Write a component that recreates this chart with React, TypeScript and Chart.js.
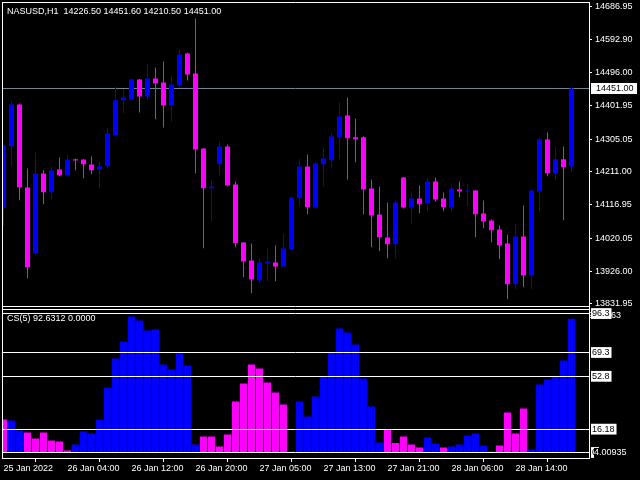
import React, { useEffect, useRef } from 'react';
import { Chart, registerables } from 'chart.js';

Chart.register(...registerables);

// ---------- data ----------
const symbolTitle = 'NASUSD,H1';
const opens = [
  14108.0, 14285.2, 14405.1, 14166.4, 13976.6, 14206.7, 14152.9, 14218.2, 14201.8, 14247.8,
  14246.9, 14232.5, 14218.2, 14227.7, 14316.8, 14417.5, 14419.5, 14477.0, 14428.1, 14479.9,
  14468.4, 14402.2, 14459.7, 14551.8, 14494.3, 14278.6, 14164.4, 14233.4, 14284.3, 14175.0,
  14008.2, 13956.4, 13898.9, 13947.8, 13950.7, 13939.2, 13988.1, 14135.6, 14226.8, 14108.9,
  14233.4, 14244.9, 14311.1, 14373.5, 14311.1, 14311.1, 14163.5, 14088.7, 14022.6, 14003.3,
  14195.2, 14108.9, 14134.8, 14121.2, 14183.6, 14134.8, 14108.9, 14160.6, 14154.9, 14157.8,
  14091.6, 14071.5, 14045.6, 14005.3, 13888.3, 14025.5, 13913.3, 14154.9, 14304.4, 14207.5,
  14247.5, 14226.5,
];
const highs = [
  14290.0, 14413.7, 14408.0, 14221.0, 14267.1, 14215.3, 14226.8, 14252.7, 14261.3, 14249.8,
  14247.5, 14255.5, 14241.2, 14339.0, 14456.0, 14449.1, 14479.9, 14478.5, 14521.0, 14511.5,
  14528.8, 14488.5, 14563.3, 14554.7, 14652.4, 14279.5, 14186.5, 14298.7, 14290.1, 14183.6,
  14009.0, 14005.3, 13962.2, 13991.0, 13999.6, 14034.1, 14140.5, 14247.5, 14261.3, 14238.3,
  14281.4, 14321.7, 14410.9, 14425.2, 14364.8, 14313.9, 14189.4, 14169.3, 14123.3, 14129.0,
  14196.6, 14152.0, 14172.1, 14192.3, 14195.2, 14152.0, 14172.1, 14183.6, 14177.9, 14158.5,
  14129.0, 14074.4, 14057.1, 14031.2, 14062.9, 14114.6, 14160.6, 14310.2, 14324.6, 14284.3,
  14284.3, 14451.6,
];
const lows = [
  14056.2, 14227.7, 14129.9, 13905.5, 13975.7, 14118.4, 14132.7, 14198.9, 14200.5, 14216.1,
  14193.1, 14204.6, 14164.4, 14221.9, 14313.9, 14380.1, 14418.5, 14382.1, 14419.5, 14362.8,
  14339.0, 14356.2, 14454.0, 14474.1, 14206.7, 13991.8, 14068.6, 14198.9, 14169.3, 13994.7,
  13908.4, 13862.4, 13891.2, 13896.9, 13896.9, 13938.5, 13985.2, 14112.6, 14089.6, 14106.9,
  14170.1, 14224.8, 14247.5, 14189.4, 14239.2, 14089.6, 13994.7, 13983.2, 13963.1, 13963.1,
  14106.0, 14062.9, 14092.5, 14098.2, 14126.1, 14098.2, 14098.2, 14138.5, 14112.6, 14023.5,
  14049.3, 14009.1, 13960.2, 13845.1, 13873.9, 13879.7, 13873.9, 14098.2, 14198.9, 14187.4,
  14072.3, 14210.5,
];
const closes = [
  14288.0, 14405.1, 14167.3, 13937.2, 14206.7, 14152.9, 14215.3, 14201.8, 14246.1, 14244.0,
  14233.4, 14216.1, 14227.7, 14321.7, 14417.5, 14425.2, 14477.0, 14428.1, 14479.9, 14465.5,
  14402.2, 14462.6, 14548.9, 14491.4, 14275.7, 14164.4, 14169.3, 14284.3, 14172.1, 14006.2,
  13953.6, 13901.8, 13950.7, 13953.6, 13939.2, 13991.0, 14137.6, 14226.8, 14109.7, 14235.4,
  14249.8, 14313.1, 14370.6, 14308.2, 14305.3, 14160.6, 14085.9, 14023.5, 14003.3, 14123.3,
  14108.9, 14134.8, 14118.4, 14183.6, 14131.9, 14109.7, 14163.5, 14154.9, 14157.8, 14089.6,
  14069.5, 14043.6, 14000.4, 13888.3, 14025.5, 13913.3, 14157.8, 14304.4, 14207.5, 14247.5,
  14224.8, 14451.0,
];
const csValues = [
  22.9, 22.2, 15.2, 13.9, 9.7, 13.9, 8.3, 7.6, 1.4, 5.5,
  14.6, 13.2, 22.9, 45.0, 65.1, 76.9, 94.2, 91.5, 84.5, 85.2,
  61.0, 57.5, 68.6, 60.3, 5.5, 11.1, 11.1, 4.2, 12.5, 35.3,
  47.8, 61.0, 58.2, 48.5, 41.6, 33.3, 0.7, 35.3, 24.9, 38.8,
  52.4, 69.1, 85.9, 83.2, 74.8, 51.3, 31.9, 6.9, 16.2, 6.5,
  11.1, 5.5, 3.5, 10.4, 6.2, 3.5, 4.2, 5.5, 11.8, 13.2,
  4.9, 0.9, 4.9, 27.7, 13.2, 30.5, 2.1, 47.1, 50.6, 52.7,
  63.8, 92.6312,
];
// 1 = rising strength (blue), -1 = falling (magenta)
const csDir = [
  -1, 1, 1, -1, -1, -1, -1, -1, -1, 1,
  1, 1, 1, 1, 1, 1, 1, 1, 1, 1,
  1, 1, 1, 1, 1, -1, -1, -1, -1, -1,
  -1, -1, -1, -1, -1, -1, 1, 1, 1, 1,
  1, 1, 1, 1, 1, 1, 1, 1, -1, -1,
  -1, -1, -1, 1, 1, -1, 1, 1, 1, 1,
  1, 1, -1, -1, -1, -1, 1, 1, 1, 1,
  1, 1,
];
const csSecondValue = 0.0;
const timeLabels = [
  '25 Jan 2022', '26 Jan 04:00', '26 Jan 12:00', '26 Jan 20:00', '27 Jan 05:00',
  '27 Jan 13:00', '27 Jan 21:00', '28 Jan 06:00', '28 Jan 14:00',
];
const timeLabelBars = [0, 8, 16, 24, 32, 40, 48, 56, 64];
const priceTicks = [
  14686.95, 14592.9, 14496.0, 14401.95, 14305.05, 14211.0, 14116.95, 14020.05, 13926.0, 13831.95,
];
const levelTicks = [96.3, 69.3, 52.8, 16.18, 0];
const csScaleMaxText = '98.3463';
const csScaleMinText = '4.00935';

// ---------- styles ----------
const UP = '#0000ff';
const DOWN = '#ff00ff';
const FONT_FAMILY = '"Liberation Sans", Arial, sans-serif';
const font = { family: FONT_FAMILY, size: 9 };
const X_MIN = -0.1875;
const X_MAX = 73.1875;

const zeroPad = (s: any) => {
  s.paddingTop = 0;
  s.paddingBottom = 0;
  s.paddingLeft = 0;
  s.paddingRight = 0;
};

const decorPlugin = {
  id: 'mt4decor',
  beforeDraw(chart: any) {
    const { ctx, width, height } = chart;
    ctx.save();
    ctx.fillStyle = '#000';
    ctx.fillRect(0, 0, width, height);
    const y2 = chart.scales.y2;
    ctx.font = `9px ${FONT_FAMILY}`;
    ctx.textBaseline = 'middle';
    ctx.fillStyle = '#fff';
    // sub-window scale maximum (mostly hidden behind level box)
    ctx.save();
    ctx.beginPath();
    ctx.rect(590, y2.top, 50, 20);
    ctx.clip();
    ctx.textAlign = 'right';
    ctx.fillText(csScaleMaxText, 621, y2.top + 8.2);
    ctx.restore();
    ctx.restore();
  },
  afterDraw(chart: any) {
    const { ctx, chartArea } = chart;
    const y = chart.scales.y;
    const y2 = chart.scales.y2;
    const L = chartArea.left;
    const R = chartArea.right;
    ctx.save();
    ctx.strokeStyle = '#fff';
    ctx.lineWidth = 1;
    ctx.beginPath();
    // top border
    ctx.moveTo(L, chartArea.top + 0.5);
    ctx.lineTo(R + 0.5, chartArea.top + 0.5);
    // left border
    ctx.moveTo(L + 0.5, chartArea.top);
    ctx.lineTo(L + 0.5, chartArea.bottom + 0.5);
    // main window bottom / sub window top
    const sep = Math.round(y.bottom);
    ctx.moveTo(L, sep - 1.5);
    ctx.lineTo(R + 0.5, sep - 1.5);
    ctx.moveTo(L, sep + 1.5);
    ctx.lineTo(R + 0.5, sep + 1.5);
    ctx.stroke();

    ctx.font = `9px ${FONT_FAMILY}`;
    ctx.textBaseline = 'alphabetic';
    ctx.textAlign = 'left';
    ctx.fillStyle = '#fff';
    const n = closes.length;
    const title = `${symbolTitle}  ${opens[n - 1].toFixed(2)} ${highs[n - 1].toFixed(2)} ${lows[n - 1].toFixed(2)} ${closes[n - 1].toFixed(2)}`;
    ctx.fillText(title, 7, 14);
    ctx.fillText(`CS(5) ${csValues[n - 1].toFixed(4)} ${csSecondValue.toFixed(4)}`, 7, y2.top + 13.5);

    // current price label
    const py = y.getPixelForValue(closes[n - 1]);
    ctx.fillStyle = '#fff';
    ctx.fillRect(591, Math.round(py - 5.5), 46, 11);
    ctx.fillStyle = '#000';
    ctx.textBaseline = 'middle';
    ctx.fillText(closes[n - 1].toFixed(2), 596, py + 0.5);

    // sub-window scale minimum
    const zy = y2.getPixelForValue(0);
    ctx.fillStyle = '#000';
    ctx.fillRect(594, Math.round(zy - 5), 34, 10);
    ctx.fillStyle = '#fff';
    ctx.fillText(csScaleMinText, 594, zy + 0.5);
    ctx.restore();
  },
};

export default function App() {
  const ref = useRef<HTMLCanvasElement | null>(null);

  useEffect(() => {
    document.body.style.margin = '0';
    document.body.style.background = '#000';
    const canvas = ref.current;
    if (!canvas) return;
    const idx = opens.map((_, i) => i);
    const candleColors = idx.map((i) => (closes[i] >= opens[i] ? UP : DOWN));
    const csColors = idx.map((i) => (csDir[i] > 0 ? UP : DOWN));
    const lastClose = closes[closes.length - 1];

    const chart = new Chart(canvas, {
      type: 'bar',
      data: {
        datasets: [
          {
            type: 'line',
            label: 'bid',
            data: [
              { x: X_MIN, y: lastClose },
              { x: X_MAX, y: lastClose },
            ],
            xAxisID: 'x',
            yAxisID: 'y',
            borderColor: '#778899',
            borderWidth: 1,
            pointRadius: 0,
            order: 10,
            clip: 0,
          } as any,
          {
            type: 'bar',
            label: 'wick',
            data: idx.map((i) => ({ x: i, y: [lows[i], highs[i]] })),
            xAxisID: 'x',
            yAxisID: 'y',
            backgroundColor: candleColors,
            barThickness: 1,
            grouped: false,
            inflateAmount: 0,
            borderWidth: 0,
            order: 3,
            clip: 0,
          } as any,
          {
            type: 'bar',
            label: 'body',
            data: idx.map((i) => ({ x: i, y: [opens[i], closes[i]] })),
            xAxisID: 'x',
            yAxisID: 'y',
            backgroundColor: candleColors,
            barThickness: 5,
            grouped: false,
            inflateAmount: 0,
            borderWidth: 0,
            order: 2,
            clip: 0,
          } as any,
          {
            type: 'bar',
            label: 'CS(5)',
            data: idx.map((i) => ({ x: i, y: csValues[i] })),
            xAxisID: 'x',
            yAxisID: 'y2',
            backgroundColor: csColors,
            barThickness: 7,
            grouped: false,
            inflateAmount: 0,
            borderWidth: 0,
            order: 1,
            clip: 0,
          } as any,
        ],
      },
      options: {
        responsive: false,
        animation: false,
        devicePixelRatio: 1,
        events: [],
        layout: { padding: { left: 2, top: 2, right: 0, bottom: 0 } },
        plugins: {
          legend: { display: false },
          tooltip: { enabled: false },
          title: { display: false },
        },
        scales: {
          x: {
            type: 'linear',
            min: X_MIN,
            max: X_MAX,
            offset: false,
            afterBuildTicks: (s: any) => {
              s.ticks = timeLabelBars.map((v) => ({ value: v }));
            },
            afterFit: (s: any) => {
              s.height = 22;
              zeroPad(s);
            },
            ticks: {
              autoSkip: false,
              maxRotation: 0,
              minRotation: 0,
              align: 'start',
              padding: 1,
              color: '#fff',
              font,
              callback: (v: any) => {
                const k = timeLabelBars.indexOf(Number(v));
                return k >= 0 ? timeLabels[k] : '';
              },
            },
            grid: { drawOnChartArea: false, drawTicks: true, tickLength: 4, color: '#fff' },
            border: { display: true, color: '#fff' },
          },
          y: {
            type: 'linear',
            position: 'right',
            stack: 'panes',
            stackWeight: 305.5,
            min: 13821.15,
            max: 14699.77,
            afterBuildTicks: (s: any) => {
              s.ticks = priceTicks.map((v) => ({ value: v }));
            },
            afterFit: (s: any) => {
              s.width = 51;
              zeroPad(s);
            },
            ticks: {
              autoSkip: false,
              padding: 3,
              color: '#fff',
              font,
              callback: (v: any) => Number(v).toFixed(2),
            },
            grid: { drawOnChartArea: false, drawTicks: true, tickLength: 3, color: '#fff' },
            border: { display: true, color: '#fff' },
          },
          y2: {
            type: 'linear',
            position: 'right',
            stack: 'panes',
            stackWeight: 150.5,
            min: -3.81,
            max: 100.49,
            afterBuildTicks: (s: any) => {
              s.ticks = levelTicks.map((v) => ({ value: v }));
            },
            afterFit: (s: any) => {
              s.width = 51;
              zeroPad(s);
            },
            ticks: {
              autoSkip: false,
              padding: 3,
              color: '#000',
              font,
              z: 1,
              showLabelBackdrop: true,
              backdropColor: '#fff',
              backdropPadding: { top: 0, bottom: 0, left: 1, right: 2 },
              callback: (v: any) => String(v),
            },
            grid: { drawOnChartArea: true, drawTicks: false, color: '#fff', lineWidth: 1, z: 1 },
            border: { display: true, color: '#fff', z: 1 },
          },
        } as any,
      },
      plugins: [decorPlugin],
    } as any);

    return () => chart.destroy();
  }, []);

  return (
    <div style={{ position: 'fixed', left: 0, top: 0, width: 640, height: 480, background: '#000' }}>
      <canvas ref={ref} width={640} height={480} style={{ display: 'block', width: 640, height: 480 }} />
    </div>
  );
}
